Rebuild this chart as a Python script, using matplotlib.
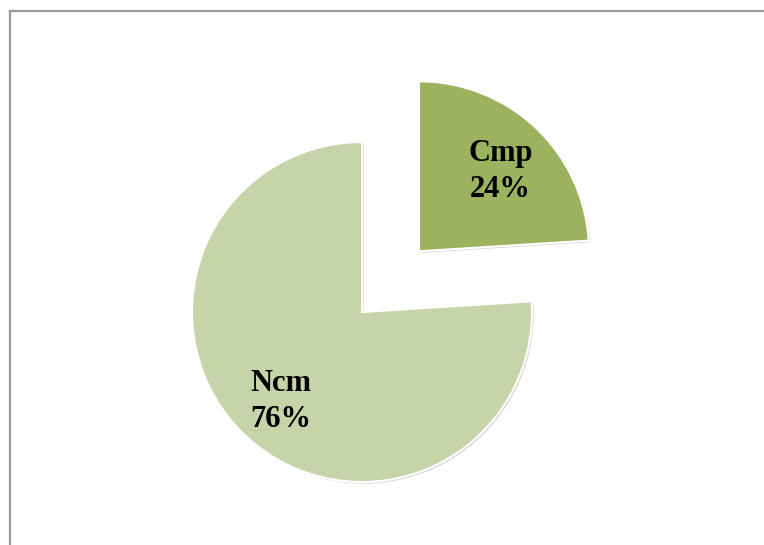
import matplotlib.pyplot as plt
from matplotlib.lines import Line2D
from matplotlib import patheffects as pe

labels = ["Cmp", "Ncm"]
shares = [24, 76]
colors = ["#9BB35F", "#C6D5A9"]
explode = [0.49, 0.0]

fig = plt.figure(figsize=(7.64, 5.45), dpi=100)
ax = fig.add_axes([0, 0, 1, 1])

wedges, _, texts = ax.pie(
    shares,
    labels=None,
    colors=colors,
    explode=explode,
    startangle=90,
    counterclock=False,
    autopct=lambda p: "",
    pctdistance=0.7,
    wedgeprops=dict(edgecolor="white", linewidth=1.5),
)

for w in wedges:
    w.set_path_effects([
        pe.SimplePatchShadow(offset=(1.2, -1.2), shadow_rgbFace="#888888", alpha=0.35),
        pe.Normal(),
    ])

# label nudges (radius units) so the text sits a little lower
nudge_y = [-0.04, -0.015]

for t, name, val, dy in zip(texts, labels, shares, nudge_y):
    t.set_text(f"{name}\n{val}%")
    t.set_fontfamily("Liberation Serif")
    t.set_fontweight("bold")
    t.set_fontsize(22)
    t.set_linespacing(1.3)
    t.set_ha("center")
    t.set_va("center")
    x, y = t.get_position()
    t.set_position((x, y + dy))

# one data unit = pie radius; place the centre in the figure
r_px = 170.0
cx, cy = 362.0, 545.0 - 312.0
ax.set_xlim(-cx / r_px, (764 - cx) / r_px)
ax.set_ylim(-cy / r_px, (545 - cy) / r_px)
ax.set_aspect("auto")
ax.axis("off")

# chart area frame (left and top edges visible)
x0 = 9.5 / 764
y0 = 1 - 10.5 / 545
fig.add_artist(Line2D([x0, x0], [0, y0], transform=fig.transFigure, color="#9a9a9a", lw=1.6))
fig.add_artist(Line2D([x0, 1], [y0, y0], transform=fig.transFigure, color="#9a9a9a", lw=1.6))

fig.savefig("out.png", dpi=100, facecolor="white")
